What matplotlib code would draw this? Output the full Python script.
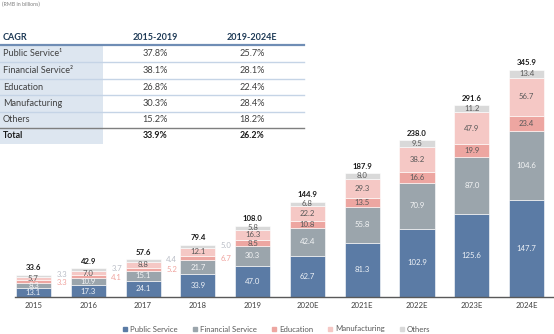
import matplotlib
matplotlib.use("Agg")
import matplotlib.pyplot as plt
from matplotlib.patches import Rectangle
from matplotlib.lines import Line2D
import numpy as np

plt.rcParams['font.family'] = ['Lato', 'DejaVu Sans']

years = ["2015", "2016", "2017", "2018", "2019", "2020E", "2021E", "2022E", "2023E", "2024E"]
public = [13.1, 17.3, 24.1, 33.9, 47.0, 62.7, 81.3, 102.9, 125.6, 147.7]
financial = [8.3, 10.9, 15.1, 21.7, 30.3, 42.4, 55.8, 70.9, 87.0, 104.6]
education = [3.3, 4.1, 5.2, 6.7, 8.5, 10.8, 13.5, 16.6, 19.9, 23.4]
manufacturing = [5.7, 7.0, 8.8, 12.1, 16.3, 22.2, 29.3, 38.2, 47.9, 56.7]
others = [3.3, 3.7, 4.4, 5.0, 5.8, 6.8, 8.0, 9.5, 11.2, 13.4]
totals = [33.6, 42.9, 57.6, 79.4, 108.0, 144.9, 187.9, 238.0, 291.6, 345.9]

series_names = ["Public Service", "Financial Service", "Education", "Manufacturing", "Others"]
colors = ["#5b7ba5", "#9ba5ac", "#eda6a1", "#f5c8c5", "#d9d9d9"]
label_colors = ["#eef2f7", "#f4f5f6", "#595959", "#595959", "#595959"]

cagr_rows = ["Public Service\u00b9", "Financial Service\u00b2", "Education", "Manufacturing", "Others"]
cagr_1519 = ["37.8%", "38.1%", "26.8%", "30.3%", "15.2%"]
cagr_1924 = ["25.7%", "28.1%", "22.4%", "28.4%", "18.2%"]
cagr_total = ["33.9%", "26.2%"]

W, H = 554, 334
fig = plt.figure(figsize=(W / 100, H / 100), dpi=100)

# chart area
ax = fig.add_axes([15 / W, (H - 296.7) / H, (W - 15) / W, 296.7 / H])
x = np.arange(len(years))
data = [public, financial, education, manufacturing, others]
bottom = np.zeros(len(years))
width = 0.64
centers = []
for vals, col in zip(data, colors):
    v = np.array(vals)
    ax.bar(x, v, width, bottom=bottom, color=col, edgecolor="white", linewidth=0.4)
    centers.append(bottom + v / 2)
    bottom = bottom + v

fs = 5.6
for i in range(len(years)):
    small = i < 4
    for k, vals in enumerate(data):
        if small and k in (2, 4):
            continue
        ax.text(x[i], centers[k][i], f"{vals[i]:.1f}", ha="center", va="center",
                fontsize=fs, color=label_colors[k])
    if small:
        # thin segments get their labels beside the bar
        ax.text(x[i] + width / 2 + 0.1, centers[2][i] - 1.0, f"{education[i]:.1f}",
                ha="left", va="center", fontsize=fs, color="#f0a49f")
        ax.text(x[i] + width / 2 + 0.1, centers[4][i] + 1.5, f"{others[i]:.1f}",
                ha="left", va="center", fontsize=fs, color="#b9bdc6")
    ax.text(x[i], totals[i] + 5, f"{totals[i]:.1f}", ha="center", va="bottom",
            fontsize=fs, fontweight="bold", color="#1a1a1a")

ax.set_xlim(-0.338, 9.5)
ax.set_ylim(0, 296.7 / 0.657)
ax.set_xticks(x)
ax.set_xticklabels(years, fontsize=fs, color="#404040")
ax.tick_params(axis="x", length=0, pad=4)
ax.set_yticks([])
for s in ["top", "right", "left"]:
    ax.spines[s].set_visible(False)
ax.spines["bottom"].set_color("#595959")
ax.spines["bottom"].set_linewidth(1.0)
ax.patch.set_alpha(0)

# legend
handles = [Line2D([], [], marker="s", linestyle="", markersize=3.5, color=c) for c in colors]
fig.legend(handles, series_names, loc="center", bbox_to_anchor=(276 / W, 1 - 329 / H),
           ncol=5, frameon=False, fontsize=5.6, handletextpad=0.1, columnspacing=1.75,
           handlelength=1.0, labelcolor="#595959")

# unit note
fig.text(2 / W, 1 - 4 / H, "(RMB in billions)", fontsize=3.8, color="#7f7f7f", va="center")

# CAGR table, drawn in pixel coordinates
def fx(px):
    return px / W

def fy(py):
    return 1 - py / H

tr = fig.transFigure
fig.patches.append(Rectangle((0, fy(144)), fx(103), (144 - 46) / H, transform=tr,
                             facecolor="#dde6f0", edgecolor="none", zorder=0))
navy = "#1f3b57"
fig.text(fx(3), fy(38), "CAGR", fontsize=6.5, fontweight="bold", color=navy, va="center")
fig.text(fx(155), fy(38), "2015-2019", fontsize=6.5, fontweight="bold", color=navy,
         va="center", ha="center")
fig.text(fx(252), fy(38), "2019-2024E", fontsize=6.5, fontweight="bold", color=navy,
         va="center", ha="center")
fig.add_artist(Line2D([0, fx(304)], [fy(45.3)] * 2, transform=tr, color="#6f8db5", lw=1.6))

row_y = [54, 70.5, 87, 103, 119.5]
line_y = [62.3, 78.8, 95.2, 111.5]
for j, name in enumerate(cagr_rows):
    fig.text(fx(3), fy(row_y[j]), name, fontsize=6.6, color="#404040", va="center")
    fig.text(fx(155), fy(row_y[j]), cagr_1519[j], fontsize=6.6, color="#404040",
             va="center", ha="center")
    fig.text(fx(252), fy(row_y[j]), cagr_1924[j], fontsize=6.6, color="#404040",
             va="center", ha="center")
for ly in line_y:
    fig.add_artist(Line2D([0, fx(304)], [fy(ly)] * 2, transform=tr, color="#c5d4e6", lw=1.0))
fig.add_artist(Line2D([0, fx(304)], [fy(127.6)] * 2, transform=tr, color="#7f7f7f", lw=1.0))

fig.text(fx(3), fy(136), "Total", fontsize=6.3, fontweight="bold", color="#1a1a1a", va="center")
fig.text(fx(155), fy(136), cagr_total[0], fontsize=6.3, fontweight="bold", color="#1a1a1a",
         va="center", ha="center")
fig.text(fx(252), fy(136), cagr_total[1], fontsize=6.3, fontweight="bold", color="#1a1a1a",
         va="center", ha="center")

fig.savefig("out.png", dpi=100)
